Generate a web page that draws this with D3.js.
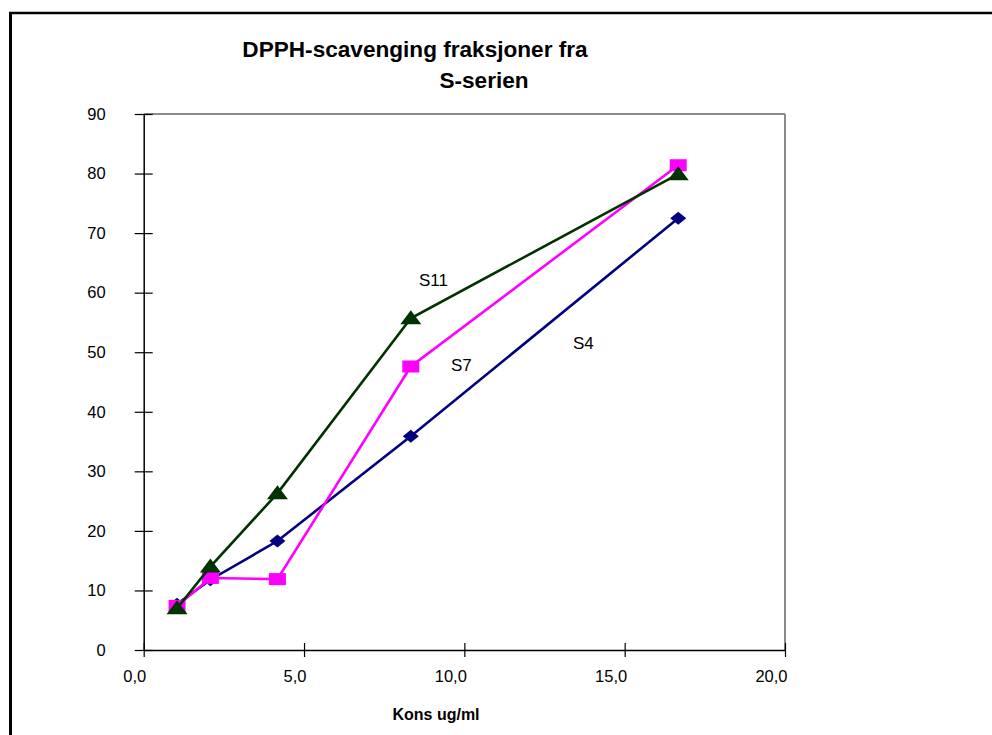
<!DOCTYPE html>
<html>
<head>
<meta charset="utf-8">
<script src="https://cdn.jsdelivr.net/npm/d3@7"></script>
<style>
  body { margin: 0; background: #fff; }
  svg { display: block; font-family: Arial, "Liberation Sans", sans-serif; }
</style>
</head>
<body>
<svg id="chart" width="992" height="735"></svg>
<script>
// ---- data ----
const concentrations = [1.04, 2.08, 4.17, 8.33, 16.67];
const s4Values  = [7.7, 11.8, 18.3, 35.9, 72.5];
const s7Values  = [7.4, 12.1, 11.9, 47.6, 81.4];
const s11Values = [7.0, 14.0, 26.3, 55.7, 79.9];
const seriesNames = ["S4", "S7", "S11"];
const xTicks = [0, 5, 10, 15, 20];
const yTicks = [0, 10, 20, 30, 40, 50, 60, 70, 80, 90];
const titleLines = ["DPPH-scavenging fraksjoner fra", "S-serien"];
const xAxisTitle = "Kons ug/ml";

const svg = d3.select("#chart");

// outer frame (left and top edges visible)
svg.append("line").attr("x1", 10.5).attr("y1", 12).attr("x2", 10.5).attr("y2", 735)
  .attr("stroke", "#000").attr("stroke-width", 3);
svg.append("line").attr("x1", 9).attr("y1", 13).attr("x2", 992).attr("y2", 13)
  .attr("stroke", "#000").attr("stroke-width", 2.5);

const x = d3.scaleLinear().domain([0, 20]).range([143.7, 785]);
const y = d3.scaleLinear().domain([0, 90]).range([650, 114]);

// plot border (top/right gray)
svg.append("line").attr("x1", x(0)).attr("x2", x(20)).attr("y1", y(90)).attr("y2", y(90))
  .attr("stroke", "#8a8a8a").attr("stroke-width", 2);
svg.append("line").attr("x1", x(20)).attr("x2", x(20)).attr("y1", y(90)).attr("y2", y(0))
  .attr("stroke", "#8a8a8a").attr("stroke-width", 2);

const tickFont = 16.5;

// y axis
const yAxis = svg.append("g").attr("transform", `translate(${x(0)},0)`)
  .call(d3.axisLeft(y).tickValues(yTicks).tickFormat(d3.format("d")).tickSize(0).tickPadding(38));
yAxis.attr("font-size", tickFont).attr("font-family", "Arial, 'Liberation Sans', sans-serif");
yAxis.select(".domain").attr("stroke", "#000").attr("stroke-width", 1.5);
yAxis.selectAll(".tick text").attr("fill", "#000");
yAxis.selectAll(".tick").append("line").attr("x1", -9).attr("x2", 9)
  .attr("stroke", "#000").attr("stroke-width", 1.2);

// x axis
const fmtX = v => d3.format(".1f")(v).replace(".", ",");
const xAxis = svg.append("g").attr("transform", `translate(0,${y(0)})`)
  .call(d3.axisBottom(x).tickValues(xTicks).tickFormat(fmtX).tickSize(0).tickPadding(20));
xAxis.attr("font-size", tickFont).attr("font-family", "Arial, 'Liberation Sans', sans-serif");
xAxis.select(".domain").attr("stroke", "#000").attr("stroke-width", 1.5);
xAxis.selectAll(".tick text").attr("fill", "#000")
  .attr("text-anchor", "end").attr("dx", 2);
xAxis.selectAll(".tick").append("line").attr("y1", -7).attr("y2", 7)
  .attr("stroke", "#000").attr("stroke-width", 1.2);

// series
const markerPaths = {
  diamond: "M-8,0 L0,-6.5 L8,0 L0,6.5 Z",
  square: "M-8.5,-6 L8.5,-6 L8.5,6 L-8.5,6 Z",
  triangle: "M0,-8 L10.5,6 L-10.5,6 Z"
};
const series = [
  { name: seriesNames[0], values: s4Values, color: "#000080", marker: "diamond" },
  { name: seriesNames[1], values: s7Values, color: "#FF00FF", marker: "square" },
  { name: seriesNames[2], values: s11Values, color: "#003300", marker: "triangle" }
];
const line = d3.line().x(d => x(d[0])).y(d => y(d[1]));
series.forEach(s => {
  const pts = concentrations.map((c, i) => [c, s.values[i]]);
  const g = svg.append("g");
  g.append("path").datum(pts).attr("d", line).attr("fill", "none")
    .attr("stroke", s.color).attr("stroke-width", 2.6);
  g.selectAll("path.m").data(pts).join("path").attr("class", "m")
    .attr("d", markerPaths[s.marker])
    .attr("transform", d => `translate(${x(d[0])},${y(d[1])})`)
    .attr("fill", s.color);
});

// series labels
const labelPos = { S11: [419, 286], S7: [451, 371], S4: [573, 349] };
seriesNames.forEach(n => {
  svg.append("text").attr("x", labelPos[n][0]).attr("y", labelPos[n][1])
    .attr("font-size", 17).attr("fill", "#000").text(n);
});

// titles
svg.append("text").attr("x", 415).attr("y", 57).attr("text-anchor", "middle")
  .attr("font-size", 22.6).attr("font-weight", "bold").text(titleLines[0]);
svg.append("text").attr("x", 484).attr("y", 88).attr("text-anchor", "middle")
  .attr("font-size", 22.6).attr("font-weight", "bold").text(titleLines[1]);
svg.append("text").attr("x", 436).attr("y", 720).attr("text-anchor", "middle")
  .attr("font-size", 16).attr("font-weight", "bold").text(xAxisTitle);
</script>
</body>
</html>
